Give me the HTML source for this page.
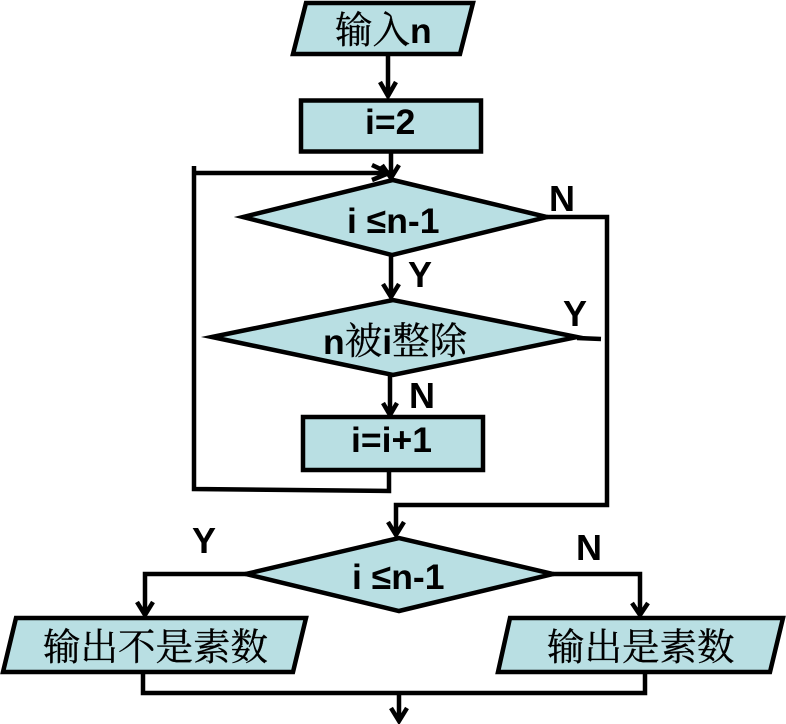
<!DOCTYPE html>
<html><head><meta charset="utf-8"><style>
html,body{margin:0;padding:0;background:#fff;width:786px;height:724px;overflow:hidden}
svg{display:block}
.l{font-family:"Liberation Sans",sans-serif;font-weight:bold;font-size:35.500px;fill:#000}
.y{font-size:36px}
.c{font-family:"Noto Serif CJK SC","Liberation Serif",serif;font-weight:400;font-size:37.500px;stroke:#000;stroke-width:.3px}
.s{fill:#b9dfe3;stroke:#000;stroke-width:4.500;stroke-linejoin:miter;stroke-miterlimit:12}
.w{fill:none;stroke:#000;stroke-width:4.500;stroke-linejoin:miter;stroke-miterlimit:12}
</style></head><body>
<svg width="786" height="724" viewBox="0 0 786 724" xmlns="http://www.w3.org/2000/svg">
<rect width="786" height="724" fill="#fff"/>
<!-- connectors -->
<g class="w">
<path d="M388 54V96M380 82L388 96L396 82"/>
<path d="M391 150V178M382 165L391 178L399 165"/>
<path d="M194 166V489L389 491V471"/>
<path d="M194 173H389M372 165L389 173L372 180"/>
<path d="M391 255V297M383 284L391 297L399 284"/>
<path d="M390 375V415M383 403L390 415L397 403"/>
<path d="M547 217H607V505H396V535M388 522L396 535L404 522"/>
<path d="M577 338L601 339"/>
<path d="M246 574H145V615M137 602L145 615L153 602"/>
<path d="M553 574H640V615M632 603L640 615L648 603"/>
<path d="M143 672V693H645V672"/>
<path d="M399 693V721M391 708L399 721L407 708"/>
</g>
<!-- shapes -->
<polygon class="s" points="243,217 393,180 547,217 392,255"/>
<polygon class="s" points="212,337 393,300 577,337 393,375"/>
<polygon class="s" points="246,574 399,538 553,574 399,611"/>
<polygon class="s" points="306,3 473,3 460,54 293,54"/>
<rect class="s" x="301" y="100.500" width="180" height="51"/>
<rect class="s" x="303" y="417" width="180" height="53"/>
<polygon class="s" points="16,618 306,618 293,672 3,672"/>
<polygon class="s" points="510,618 783,618 770,672 498,672"/>
<!-- text -->
<text class="l" x="335" y="43"><tspan class="c">输入</tspan>n</text>
<text class="l" x="365" y="134">i=2</text>
<text class="l" x="347" y="233">i ≤n-1</text>
<text class="l" x="323" y="354">n<tspan class="c">被</tspan>i<tspan class="c">整除</tspan></text>
<text class="l" x="351" y="452">i=i+1</text>
<text class="l" x="352" y="589">i ≤n-1</text>
<text class="c" x="43" y="660">输出不是素数</text>
<text class="c" x="547" y="660">输出是素数</text>
<text class="l y" x="549" y="211">N</text>
<text class="l y" x="408" y="287">Y</text>
<text class="l y" x="563" y="326">Y</text>
<text class="l y" x="409" y="408">N</text>
<text class="l y" x="192" y="553">Y</text>
<text class="l y" x="576" y="560">N</text>
</svg>
</body></html>
